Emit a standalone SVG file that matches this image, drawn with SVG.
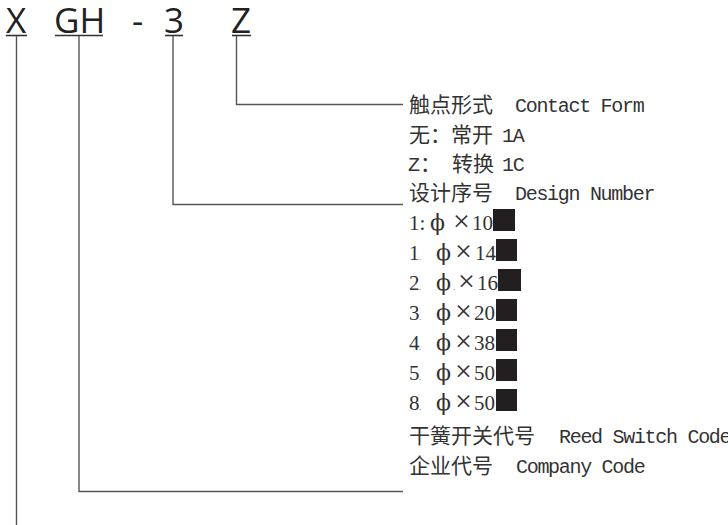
<svg xmlns="http://www.w3.org/2000/svg" width="728" height="525" viewBox="0 0 728 525">
<style>
.code{font-family:"Open Sans","Liberation Sans",sans-serif;font-size:35px;fill:#222}
.ul{stroke:#333;stroke-width:1.6;fill:none}
.ln{stroke:#555;stroke-width:1.4;fill:none}
.cn{font-family:"Noto Sans CJK SC","Liberation Serif",serif;font-size:21px;fill:#333}
.en{font-family:"Liberation Mono",monospace;font-size:20px;letter-spacing:-1.3px;fill:#333}
.sz{font-family:"Liberation Serif",serif;font-size:21px;fill:#333}
.ph{font-family:"DejaVu Serif","Liberation Serif",serif;font-size:22px;fill:#333}
.x{font-family:"Liberation Serif",serif;font-size:30px;fill:#333}
.dot{font-family:"Liberation Serif",serif;font-size:9px;fill:#555}
.sq{fill:#231f20}
</style>
<g id="code">
<text class="code" x="6" y="33">X</text>
<text class="code" x="54" y="33">GH</text>
<text class="code" x="132" y="33">-</text>
<text class="code" x="164" y="33">3</text>
<text class="code" x="231" y="33">Z</text>
<line class="ul" x1="6" y1="35.5" x2="27" y2="35.5"/>
<line class="ul" x1="55" y1="35.5" x2="103" y2="35.5"/>
<line class="ul" x1="165" y1="35.5" x2="183" y2="35.5"/>
<line class="ul" x1="232" y1="35.5" x2="251" y2="35.5"/>
</g>
<g id="connectors">
<polyline class="ln" points="236.5,36 236.5,104.5 403,104.5"/>
<polyline class="ln" points="173,36 173,204.5 403,204.5"/>
<polyline class="ln" points="79,36 79,491.5 403,491.5"/>
<line class="ln" x1="16.5" y1="36" x2="16.5" y2="525"/>
</g>
<g id="contact-form">
<text class="cn" x="409" y="112">触点形式</text>
<text class="en" x="515" y="112">Contact Form</text>
<text class="cn" x="409" y="141.5">无：常开</text>
<text class="en" x="502" y="141.5">1A</text>
<text class="en" x="408" y="171">Z</text>
<text class="cn" x="420" y="171">：</text>
<text class="cn" x="452" y="171">转换</text>
<text class="en" x="502" y="171">1C</text>
</g>
<g id="design-number">
<text class="cn" x="409" y="200">设计序号</text>
<text class="en" x="515" y="200">Design Number</text>
<text class="sz" x="409" y="230">1:</text>
<text class="ph" x="430" y="230">ϕ</text>
<text class="x" x="453" y="231">×</text>
<text class="sz" x="472" y="230">10</text>
<rect class="sq" x="493" y="209" width="22" height="22"/>
<text class="sz" x="409" y="260">1</text><text class="dot" x="419" y="260">.</text>
<text class="ph" x="436" y="260">ϕ</text>
<text class="x" x="455" y="261">×</text>
<text class="sz" x="475" y="260">14</text>
<rect class="sq" x="496" y="239" width="21" height="22"/>
<text class="sz" x="409" y="290">2</text><text class="dot" x="419" y="290">.</text>
<text class="ph" x="436" y="290">ϕ</text><text class="dot" x="453" y="290">.</text>
<text class="x" x="458" y="291">×</text>
<text class="sz" x="477" y="290">16</text>
<rect class="sq" x="498" y="269" width="23" height="22"/>
<text class="sz" x="409" y="320">3</text><text class="dot" x="419" y="320">.</text>
<text class="ph" x="436" y="320">ϕ</text>
<text class="x" x="455" y="321">×</text>
<text class="sz" x="474" y="320">20</text>
<rect class="sq" x="496" y="299" width="21" height="22"/>
<text class="sz" x="409" y="350">4</text><text class="dot" x="419" y="350">.</text>
<text class="ph" x="436" y="350">ϕ</text>
<text class="x" x="455" y="351">×</text>
<text class="sz" x="474" y="350">38</text>
<rect class="sq" x="496" y="329" width="21" height="22"/>
<text class="sz" x="409" y="380">5</text><text class="dot" x="419" y="380">.</text>
<text class="ph" x="436" y="380">ϕ</text>
<text class="x" x="455" y="381">×</text>
<text class="sz" x="474" y="380">50</text>
<rect class="sq" x="496" y="359" width="21" height="22"/>
<text class="sz" x="409" y="410">8</text><text class="dot" x="419" y="410">.</text>
<text class="ph" x="436" y="410">ϕ</text>
<text class="x" x="455" y="411">×</text>
<text class="sz" x="474" y="410">50</text>
<rect class="sq" x="496" y="389" width="21" height="22"/>
</g>
<g id="reed-switch-code">
<text class="cn" x="409" y="443">干簧开关代号</text>
<text class="en" x="559" y="443">Reed Switch Code</text>
</g>
<g id="company-code">
<text class="cn" x="409" y="473">企业代号</text>
<text class="en" x="516" y="473">Company Code</text>
</g>
</svg>
